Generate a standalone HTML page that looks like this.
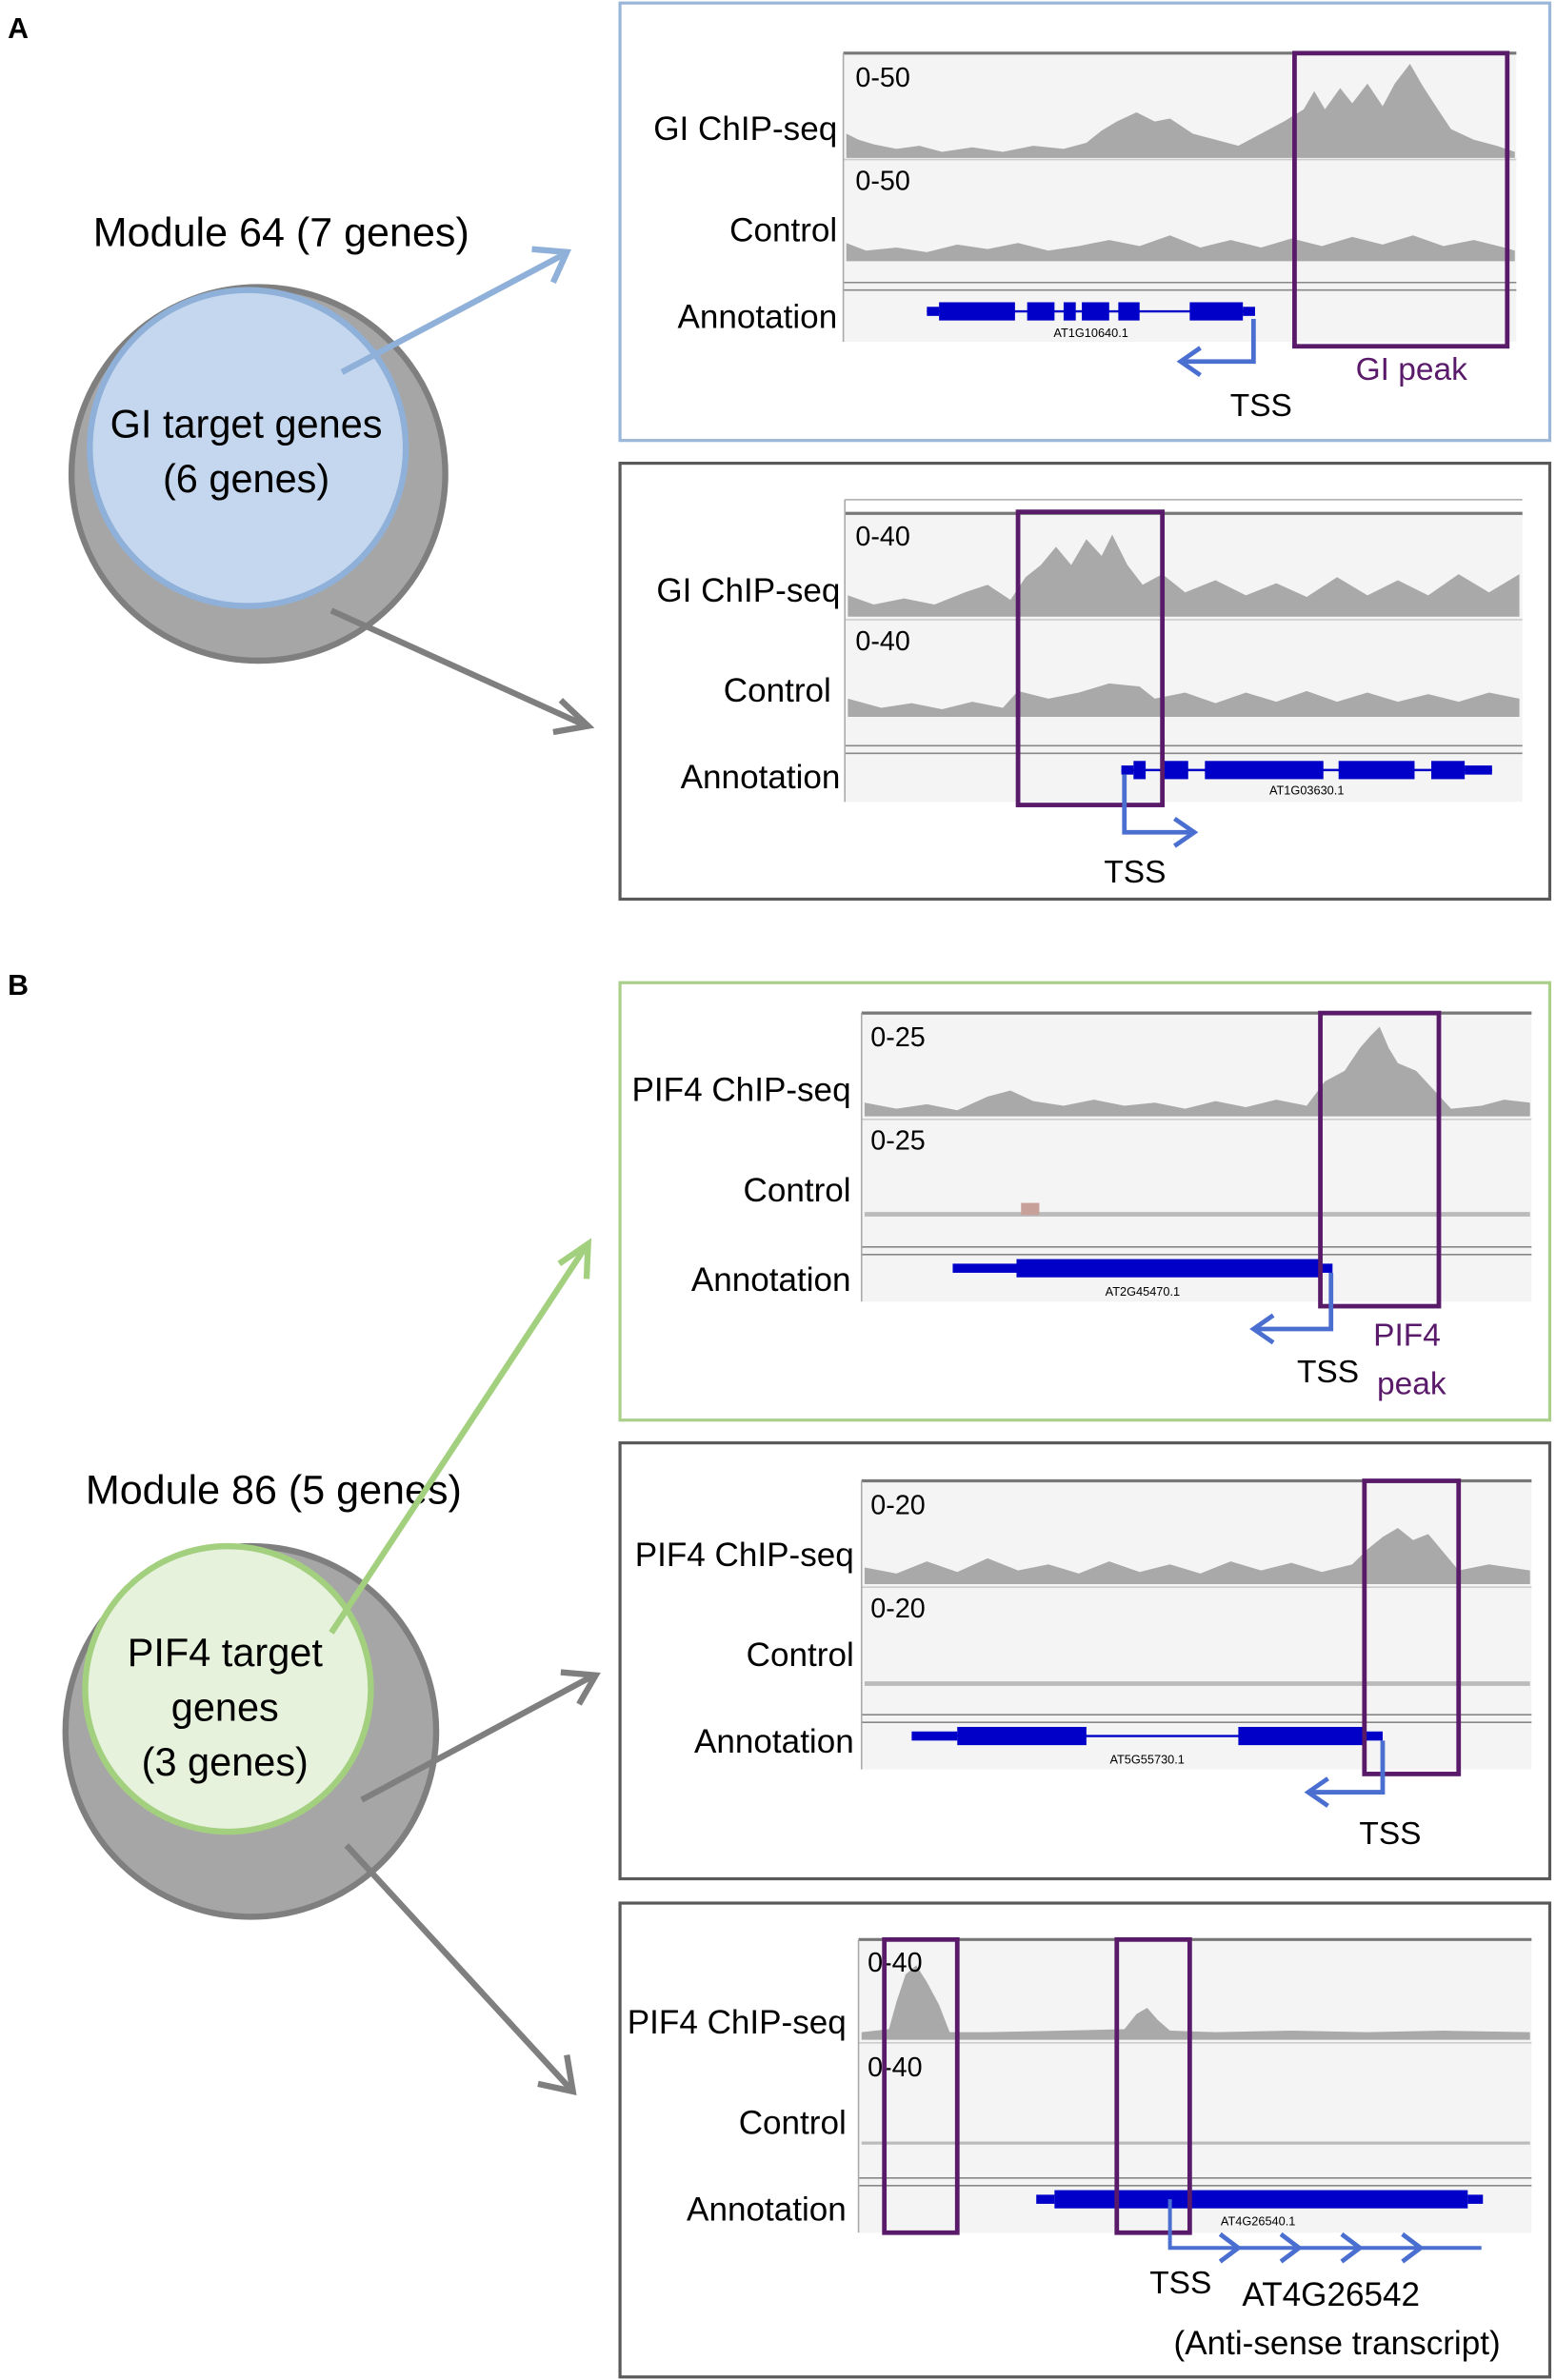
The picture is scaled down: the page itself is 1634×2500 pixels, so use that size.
<!DOCTYPE html>
<html><head><meta charset="utf-8"><style>
html,body{margin:0;padding:0;background:#fff}
svg{display:block}
text{font-family:"Liberation Sans",sans-serif;fill:#000}
</style></head><body>
<svg width="1634" height="2500" viewBox="0 0 1024 1567" xmlns="http://www.w3.org/2000/svg">
<text x="5" y="25" font-size="19" font-weight="bold">A</text>
<text x="5" y="655" font-size="19" font-weight="bold">B</text>

<!-- Circle A -->
<circle cx="170" cy="312" r="123" fill="#a6a6a6" stroke="#7f7f7f" stroke-width="4"/>
<circle cx="163" cy="295" r="104" fill="#c5d7ee" stroke="#8fb0d8" stroke-width="4"/>
<text x="185" y="162" font-size="27" text-anchor="middle">Module 64 (7 genes)</text>
<text x="162" y="288" font-size="26" text-anchor="middle">GI target genes</text>
<text x="162" y="324" font-size="26" text-anchor="middle">(6 genes)</text>
<line x1="225" y1="245" x2="372" y2="167" stroke="#8fb0d8" stroke-width="4"/>
<polyline points="350,164 373,166 364,186" fill="none" stroke="#8fb0d8" stroke-width="4"/>
<line x1="218" y1="402" x2="386" y2="478" stroke="#7f7f7f" stroke-width="4"/>
<polyline points="369,461 387,478 364,482" fill="none" stroke="#7f7f7f" stroke-width="4"/>

<!-- Circle B -->
<circle cx="165" cy="1140" r="122" fill="#a6a6a6" stroke="#7f7f7f" stroke-width="4"/>
<circle cx="150" cy="1112" r="94" fill="#e6f2dc" stroke="#a3d07f" stroke-width="4"/>
<text x="180" y="990" font-size="27" text-anchor="middle">Module 86 (5 genes)</text>
<text x="148" y="1097" font-size="26" text-anchor="middle">PIF4 target</text>
<text x="148" y="1133" font-size="26" text-anchor="middle">genes</text>
<text x="148" y="1169" font-size="26" text-anchor="middle">(3 genes)</text>
<line x1="218" y1="1075" x2="386" y2="820" stroke="#a3d07f" stroke-width="4"/>
<polyline points="368,832 387,819 386,842" fill="none" stroke="#a3d07f" stroke-width="4"/>
<line x1="238" y1="1185" x2="391" y2="1103" stroke="#7f7f7f" stroke-width="4"/>
<polyline points="369,1101 392,1103 381,1122" fill="none" stroke="#7f7f7f" stroke-width="4"/>
<line x1="228" y1="1215" x2="376" y2="1376" stroke="#7f7f7f" stroke-width="4"/>
<polyline points="373,1353 377,1377 354,1372" fill="none" stroke="#7f7f7f" stroke-width="4"/>

<!-- Panel A1 -->
<rect x="408" y="2" width="612" height="288" fill="#fff" stroke="#9ab6d8" stroke-width="2"/>
<rect x="555" y="35" width="443" height="190" fill="#f4f4f4"/>
<line x1="555" y1="35" x2="998" y2="35" stroke="#777" stroke-width="2"/>
<line x1="555" y1="105" x2="998" y2="105" stroke="#ccc"/>
<line x1="555" y1="186" x2="998" y2="186" stroke="#888"/>
<line x1="555" y1="191" x2="998" y2="191" stroke="#888"/>
<line x1="555" y1="35" x2="555" y2="225" stroke="#aaa"/>
<polygon fill="#a9a9a9" points="557,104 557,88 565,92 575,95 590,98 605,96 620,100 640,97 660,100 680,96 700,98 715,94 725,86 735,80 748,74 760,80 770,78 785,88 800,92 815,96 830,88 845,80 858,72 865,60 872,72 882,58 890,68 900,55 910,70 918,55 928,42 936,56 945,70 955,85 970,92 985,96 997,100 997,104"/>
<polygon fill="#a9a9a9" points="557,172 557,160 570,165 590,163 610,166 630,161 650,164 670,160 690,165 710,162 730,158 750,162 770,155 790,163 810,158 830,163 850,157 870,162 890,156 910,161 930,155 950,162 970,158 990,163 997,165 997,172"/>
<text x="563" y="57" font-size="18">0-50</text>
<text x="563" y="125" font-size="18">0-50</text>
<text x="551" y="92" font-size="22" text-anchor="end">GI ChIP-seq</text>
<text x="551" y="159" font-size="22" text-anchor="end">Control</text>
<text x="551" y="216" font-size="22" text-anchor="end">Annotation</text>
<line x1="610" y1="205" x2="825" y2="205" stroke="#0000c8" stroke-width="1.5"/>
<rect x="610" y="202" width="8" height="6" fill="#0000c8"/>
<rect x="618" y="199" width="50" height="12" fill="#0000c8"/>
<rect x="676" y="199" width="18" height="12" fill="#0000c8"/>
<rect x="700" y="199" width="8" height="12" fill="#0000c8"/>
<rect x="712" y="199" width="18" height="12" fill="#0000c8"/>
<rect x="736" y="199" width="14" height="12" fill="#0000c8"/>
<rect x="783" y="199" width="35" height="12" fill="#0000c8"/>
<rect x="818" y="202" width="8" height="6" fill="#0000c8"/>
<text x="718" y="222" font-size="8" text-anchor="middle">AT1G10640.1</text>
<rect x="852" y="35" width="140" height="193" fill="none" stroke="#5a1a6a" stroke-width="3"/>
<text x="929" y="250" font-size="21" text-anchor="middle" style="fill:#5a1a6a">GI peak</text>
<polyline points="825,210 825,238 778,238" fill="none" stroke="#4a6fd0" stroke-width="3"/>
<polyline points="790,229 777,238 790,247" fill="none" stroke="#4a6fd0" stroke-width="3"/>
<text x="830" y="274" font-size="21" text-anchor="middle">TSS</text>

<!-- Panel A2 -->
<rect x="408" y="305" width="612" height="287" fill="#fff" stroke="#595959" stroke-width="2"/>
<rect x="556" y="338" width="446" height="190" fill="#f4f4f4"/>
<line x1="556" y1="329" x2="1002" y2="329" stroke="#aaa"/>
<line x1="556" y1="338" x2="1002" y2="338" stroke="#777" stroke-width="2"/>
<line x1="556" y1="408" x2="1002" y2="408" stroke="#ccc"/>
<line x1="556" y1="491" x2="1002" y2="491" stroke="#888"/>
<line x1="556" y1="496" x2="1002" y2="496" stroke="#888"/>
<line x1="556" y1="329" x2="556" y2="528" stroke="#aaa"/>
<polygon fill="#a9a9a9" points="558,406 558,392 575,398 595,394 615,398 635,390 650,385 665,395 675,380 685,372 695,360 705,372 715,355 725,366 732,352 742,372 752,385 765,378 780,390 800,382 820,392 840,384 860,393 880,380 900,392 920,382 940,392 960,378 980,390 1000,378 1000,406"/>
<polygon fill="#a9a9a9" points="558,472 558,460 580,466 600,463 620,467 640,462 660,466 670,455 690,460 710,456 730,450 750,452 760,460 780,456 800,463 820,456 840,462 860,455 880,462 900,456 920,462 940,457 960,462 980,456 1000,460 1000,472"/>
<text x="563" y="359" font-size="18">0-40</text>
<text x="563" y="428" font-size="18">0-40</text>
<text x="553" y="396" font-size="22" text-anchor="end">GI ChIP-seq</text>
<text x="547" y="462" font-size="22" text-anchor="end">Control</text>
<text x="553" y="519" font-size="22" text-anchor="end">Annotation</text>
<line x1="738" y1="507" x2="982" y2="507" stroke="#0000c8" stroke-width="1.5"/>
<rect x="738" y="504" width="8" height="6" fill="#0000c8"/>
<rect x="746" y="501" width="8" height="12" fill="#0000c8"/>
<rect x="766" y="501" width="16" height="12" fill="#0000c8"/>
<rect x="793" y="501" width="78" height="12" fill="#0000c8"/>
<rect x="881" y="501" width="50" height="12" fill="#0000c8"/>
<rect x="942" y="501" width="22" height="12" fill="#0000c8"/>
<rect x="964" y="504" width="18" height="6" fill="#0000c8"/>
<text x="860" y="523" font-size="8" text-anchor="middle">AT1G03630.1</text>
<rect x="670" y="337" width="95" height="193" fill="none" stroke="#5a1a6a" stroke-width="3"/>
<polyline points="740,510 740,548 785,548" fill="none" stroke="#4a6fd0" stroke-width="3"/>
<polyline points="773,539 786,548 773,557" fill="none" stroke="#4a6fd0" stroke-width="3"/>
<text x="747" y="581" font-size="21" text-anchor="middle">TSS</text>

<!-- Panel B1 -->
<rect x="408" y="647" width="612" height="288" fill="#fff" stroke="#a9cf8a" stroke-width="2"/>
<rect x="567" y="667" width="441" height="190" fill="#f4f4f4"/>
<line x1="567" y1="667" x2="1008" y2="667" stroke="#777" stroke-width="2"/>
<line x1="567" y1="737" x2="1008" y2="737" stroke="#ccc"/>
<line x1="567" y1="821" x2="1008" y2="821" stroke="#888"/>
<line x1="567" y1="826" x2="1008" y2="826" stroke="#888"/>
<line x1="567" y1="667" x2="567" y2="857" stroke="#aaa"/>
<polygon fill="#a9a9a9" points="569,735 569,726 590,730 610,727 630,731 650,722 665,718 680,725 700,728 720,724 740,728 760,726 780,730 800,725 820,729 840,724 860,728 872,712 885,705 895,690 902,682 908,676 914,690 920,700 932,705 944,718 955,730 975,728 990,724 1007,726 1007,735"/>
<rect x="569" y="798" width="438" height="3" fill="#bbb"/>
<rect x="672" y="792" width="12" height="8" fill="#c7a09a"/>
<text x="573" y="689" font-size="18">0-25</text>
<text x="573" y="757" font-size="18">0-25</text>
<text x="560" y="725" font-size="22" text-anchor="end">PIF4 ChIP-seq</text>
<text x="560" y="791" font-size="22" text-anchor="end">Control</text>
<text x="560" y="850" font-size="22" text-anchor="end">Annotation</text>
<rect x="627" y="832" width="42" height="6" fill="#0000c8"/>
<rect x="669" y="829" width="200" height="12" fill="#0000c8"/>
<rect x="869" y="832" width="8" height="6" fill="#0000c8"/>
<text x="752" y="853" font-size="8" text-anchor="middle">AT2G45470.1</text>
<rect x="869" y="667" width="78" height="193" fill="none" stroke="#5a1a6a" stroke-width="3"/>
<polyline points="876,838 876,875 826,875" fill="none" stroke="#4a6fd0" stroke-width="3"/>
<polyline points="838,866 825,875 838,884" fill="none" stroke="#4a6fd0" stroke-width="3"/>
<text x="874" y="910" font-size="21" text-anchor="middle">TSS</text>
<text x="926" y="886" font-size="21" text-anchor="middle" style="fill:#5a1a6a">PIF4</text>
<text x="929" y="918" font-size="21" text-anchor="middle" style="fill:#5a1a6a">peak</text>

<!-- Panel B2 -->
<rect x="408" y="950" width="612" height="287" fill="#fff" stroke="#595959" stroke-width="2"/>
<rect x="567" y="975" width="441" height="190" fill="#f4f4f4"/>
<line x1="567" y1="975" x2="1008" y2="975" stroke="#777" stroke-width="2"/>
<line x1="567" y1="1045" x2="1008" y2="1045" stroke="#ccc"/>
<line x1="567" y1="1129" x2="1008" y2="1129" stroke="#888"/>
<line x1="567" y1="1134" x2="1008" y2="1134" stroke="#888"/>
<line x1="567" y1="975" x2="567" y2="1165" stroke="#aaa"/>
<polygon fill="#a9a9a9" points="569,1043 569,1032 590,1036 610,1028 630,1035 650,1026 670,1034 690,1030 710,1036 730,1028 750,1035 770,1030 790,1036 810,1028 830,1034 850,1029 870,1035 890,1030 900,1020 910,1012 920,1006 930,1014 940,1010 950,1022 960,1034 980,1030 1007,1034 1007,1043"/>
<rect x="569" y="1107" width="438" height="3" fill="#bbb"/>
<text x="573" y="997" font-size="18">0-20</text>
<text x="573" y="1065" font-size="18">0-20</text>
<text x="562" y="1031" font-size="22" text-anchor="end">PIF4 ChIP-seq</text>
<text x="562" y="1097" font-size="22" text-anchor="end">Control</text>
<text x="562" y="1154" font-size="22" text-anchor="end">Annotation</text>
<line x1="600" y1="1143" x2="910" y2="1143" stroke="#0000c8" stroke-width="1.5"/>
<rect x="600" y="1140" width="30" height="6" fill="#0000c8"/>
<rect x="630" y="1137" width="85" height="12" fill="#0000c8"/>
<rect x="815" y="1137" width="83" height="12" fill="#0000c8"/>
<rect x="898" y="1140" width="12" height="6" fill="#0000c8"/>
<text x="755" y="1161" font-size="8" text-anchor="middle">AT5G55730.1</text>
<rect x="898" y="975" width="62" height="193" fill="none" stroke="#5a1a6a" stroke-width="3"/>
<polyline points="910,1146 910,1180 862,1180" fill="none" stroke="#4a6fd0" stroke-width="3"/>
<polyline points="874,1171 861,1180 874,1189" fill="none" stroke="#4a6fd0" stroke-width="3"/>
<text x="915" y="1214" font-size="21" text-anchor="middle">TSS</text>

<!-- Panel B3 -->
<rect x="408" y="1253" width="612" height="312" fill="#fff" stroke="#595959" stroke-width="2"/>
<rect x="565" y="1277" width="443" height="193" fill="#f4f4f4"/>
<line x1="565" y1="1277" x2="1008" y2="1277" stroke="#777" stroke-width="2"/>
<line x1="565" y1="1345" x2="1008" y2="1345" stroke="#ccc"/>
<line x1="565" y1="1434" x2="1008" y2="1434" stroke="#888"/>
<line x1="565" y1="1439" x2="1008" y2="1439" stroke="#888"/>
<line x1="565" y1="1277" x2="565" y2="1470" stroke="#aaa"/>
<polygon fill="#a9a9a9" points="567,1343 567,1338 585,1336 590,1318 596,1300 603,1294 610,1305 618,1320 625,1338 650,1338 700,1337 740,1336 748,1326 755,1322 762,1330 770,1337 800,1338 850,1337 900,1338 950,1337 1007,1338 1007,1343"/>
<rect x="567" y="1410" width="440" height="2" fill="#bbb"/>
<text x="571" y="1298" font-size="18">0-40</text>
<text x="571" y="1367" font-size="18">0-40</text>
<text x="557" y="1339" font-size="22" text-anchor="end">PIF4 ChIP-seq</text>
<text x="557" y="1405" font-size="22" text-anchor="end">Control</text>
<text x="557" y="1462" font-size="22" text-anchor="end">Annotation</text>
<rect x="682" y="1445" width="12" height="6" fill="#0000c8"/>
<rect x="694" y="1442" width="272" height="12" fill="#0000c8"/>
<rect x="966" y="1445" width="10" height="6" fill="#0000c8"/>
<text x="828" y="1465" font-size="8" text-anchor="middle">AT4G26540.1</text>
<rect x="582" y="1277" width="48" height="193" fill="none" stroke="#5a1a6a" stroke-width="3"/>
<rect x="735" y="1277" width="48" height="193" fill="none" stroke="#5a1a6a" stroke-width="3"/>
<polyline points="770,1448 770,1480 975,1480" fill="none" stroke="#4a6fd0" stroke-width="2.5"/>
<g fill="none" stroke="#4a6fd0" stroke-width="3">
<polyline points="803,1471 815,1480 803,1489"/>
<polyline points="843,1471 855,1480 843,1489"/>
<polyline points="883,1471 895,1480 883,1489"/>
<polyline points="923,1471 935,1480 923,1489"/>
</g>
<text x="777" y="1510" font-size="21" text-anchor="middle">TSS</text>
<text x="876" y="1518" font-size="22" text-anchor="middle">AT4G26542</text>
<text x="880" y="1550" font-size="22" text-anchor="middle">(Anti-sense transcript)</text>
</svg>
</body></html>
